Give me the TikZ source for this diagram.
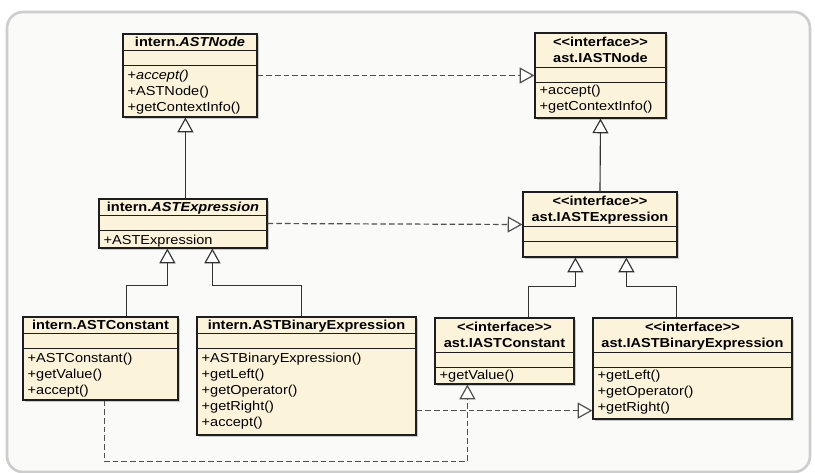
\documentclass[tikz,border=0pt]{standalone}
\usepackage{fontspec}
\setmainfont{Liberation Sans}[FakeStretch=1.12]
\usetikzlibrary{arrows.meta,calc,fit,shadows}

\definecolor{cream}{RGB}{251,243,218}
\definecolor{frameline}{RGB}{205,205,205}
\definecolor{framefill}{RGB}{250,250,248}
\definecolor{boxline}{RGB}{30,30,30}
\definecolor{genline}{RGB}{50,50,50}
\definecolor{realline}{RGB}{80,80,80}

% stereotype text without ligature mapping of << and >>
\newcommand\stereo[1]{<\kern0pt<#1>\kern0pt>}
% horizontal compartment separator at a given offset from the top of a box
\newcommand\compsep[2]{\draw[compline] ($(#1.north west)+(0,#2)$) -- ($(#1.north east)+(0,#2)$);}
% one member line (baseline offset from the top of a box)
\newcommand\member[3]{\node[memb] at ($(#1.north west)+(5,#2)$) {#3};}
% centred title line (baseline offset from the top of a box)
\newcommand\boxtitle[3]{\node[ttl] at ($(#1.north)+(0,#2)$) {#3};}

\tikzset{
  x=0.75pt, y=-0.75pt,
  umlbox/.style={draw=boxline, fill=cream, line width=0.9pt, inner sep=0pt,
    drop shadow={shadow xshift=1.8pt, shadow yshift=-1.8pt, opacity=0.4}},
  compline/.style={draw=boxline, line width=0.8pt},
  ttl/.style={font=\bfseries, inner sep=0pt, anchor=base},
  memb/.style={inner sep=0pt, anchor=base west},
  opentri/.style={-{Triangle[length=11pt,width=12pt,fill=white]}},
  gen/.style={draw=genline, line width=0.85pt, opentri},
  real/.style={draw=realline, line width=0.9pt, dash pattern=on 4.2pt off 2.3pt, opentri},
}

\begin{document}
\begin{tikzpicture}
\fontsize{9.75pt}{12pt}\selectfont
\useasboundingbox (0,0) rectangle (815,472);

% outer panel
\draw[line width=2pt, draw=frameline, fill=framefill, rounded corners=12pt]
  (7,12) rectangle (810,472);

% ---------- implementation classes ----------
\node[umlbox, fit={(123,34) (257,117)}] (A) {};
\boxtitle{A}{13}{intern.\textit{ASTNode}}
\compsep{A}{17}\compsep{A}{32}
\member{A}{46.5}{+\textit{accept()}}
\member{A}{62.5}{+ASTNode()}
\member{A}{78.5}{+getContextInfo()}

\node[umlbox, fit={(99,199) (267,248)}] (C) {};
\boxtitle{C}{13}{intern.\textit{ASTExpression}}
\compsep{C}{17}\compsep{C}{32}
\member{C}{46.5}{+ASTExpression}

\node[umlbox, fit={(23,317) (178,400)}] (E) {};
\boxtitle{E}{13}{intern.ASTConstant}
\compsep{E}{17}\compsep{E}{32}
\member{E}{46.5}{+ASTConstant()}
\member{E}{62.5}{+getValue()}
\member{E}{78.5}{+accept()}

\node[umlbox, fit={(197,317) (416,435)}] (F) {};
\boxtitle{F}{13}{intern.ASTBinaryExpression}
\compsep{F}{17}\compsep{F}{32}
\member{F}{46.5}{+ASTBinaryExpression()}
\member{F}{62.5}{+getLeft()}
\member{F}{78.5}{+getOperator()}
\member{F}{94.5}{+getRight()}
\member{F}{110.5}{+accept()}

% ---------- interfaces ----------
\node[umlbox, fit={(535,33) (666,118)}] (B) {};
\boxtitle{B}{14}{\stereo{interface}}
\boxtitle{B}{30.5}{ast.IASTNode}
\compsep{B}{35}\compsep{B}{50}
\member{B}{62.5}{+accept()}
\member{B}{78.5}{+getContextInfo()}

\node[umlbox, fit={(523,192) (677,257)}] (D) {};
\boxtitle{D}{14}{\stereo{interface}}
\boxtitle{D}{30.5}{ast.IASTExpression}
\compsep{D}{35}\compsep{D}{50}

\node[umlbox, fit={(435,318) (574,384)}] (G) {};
\boxtitle{G}{14}{\stereo{interface}}
\boxtitle{G}{30.5}{ast.IASTConstant}
\compsep{G}{35}\compsep{G}{50}
\member{G}{62.5}{+getValue()}

\node[umlbox, fit={(593,318) (792,419)}] (H) {};
\boxtitle{H}{14}{\stereo{interface}}
\boxtitle{H}{30.5}{ast.IASTBinaryExpression}
\compsep{H}{35}\compsep{H}{50}
\member{H}{62.5}{+getLeft()}
\member{H}{78.5}{+getOperator()}
\member{H}{94.5}{+getRight()}

% ---------- generalisations ----------
\draw[gen] ($(C.north west)+(87,0)$) -- ($(A.south west)+(63,0)$);
\draw[gen] (D.north) -- (B.south);
\draw[gen] ($(E.north west)+(104,0)$) -- ++(0,-31) -| ($(C.south west)+(69,0)$);
\draw[gen] ($(F.north west)+(105,0)$) -- ++(0,-31) -| ($(C.south west)+(114,0)$);
\draw[gen] ($(G.north west)+(94,0)$) -- ++(0,-31) -| ($(D.south west)+(53,0)$);
\draw[gen] ($(H.north west)+(84,0)$) -- ++(0,-31) -| ($(D.south west)+(104,0)$);

% ---------- realisations ----------
\draw[real] (A.east) -- (B.west);
\draw[real] (C.east) -- (D.west);
\draw[real] ($(F.south east)+(0,-25)$) -- ($(H.south west)+(0,-9)$);
\draw[real] ($(E.south west)+(82,0)$) -- ++(0,61) -| ($(G.south west)+(33,0)$);
\end{tikzpicture}
\end{document}
